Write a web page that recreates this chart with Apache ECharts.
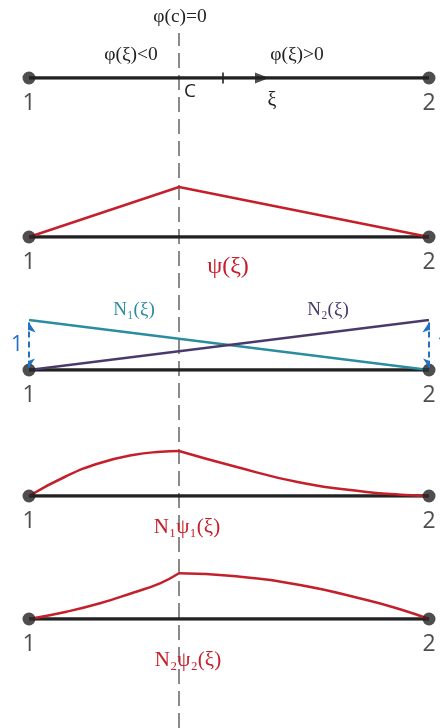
<!DOCTYPE html>
<html><head><meta charset="utf-8">
<style>html,body{margin:0;padding:0;background:#fff;}#c{width:440px;height:728px;}</style>
<script src="https://cdn.jsdelivr.net/npm/echarts@6/dist/echarts.min.js"></script>
</head><body><div id="c"></div>
<script>
// ---- data ----
const nodeXi = [0, 1];
const nodeLabels = ['1', '2'];
const cXi = 0.375;
const tickXi = 0.485;
const arrowXi = 0.5825;
const psiXi = [0, 0.375, 1];
const psiVal = [0, 1, 0];
const n1Xi = [0, 1];
const n1Val = [1, 0];
const n2Xi = [0, 1];
const n2Val = [0, 1];
const n1psiLeftXi = [0, 0.094, 0.1775, 0.26, 0.33, 0.375];
const n1psiLeftVal = [0, 0.40, 0.66, 0.82, 0.885, 0.90];
const n1psiRightXi = [0.375, 0.51, 0.6775, 0.844, 0.93, 1];
const n1psiRightVal = [0.90, 0.60, 0.27, 0.08, 0.025, 0];
const n2psiLeftXi = [0, 0.094, 0.1775, 0.26, 0.3275, 0.375];
const n2psiLeftVal = [0, 0.146, 0.314, 0.526, 0.714, 0.914];
const n2psiRightXi = [0.375, 0.51, 0.6775, 0.844, 0.9275, 1];
const n2psiRightVal = [0.914, 0.86, 0.68, 0.38, 0.194, 0];
const arrowXiList = [0, 1];

const RED = '#c4202b', TEAL = '#2a8d9f', PURPLE = '#4a3a6c', BLUE = '#1f72c6', BLACK = '#222';
const SERIF = '"Liberation Serif", "DejaVu Serif", serif';
const SANS = '"Open Sans", "Liberation Sans", sans-serif';

const zip = (a, b) => a.map((v, i) => [v, b[i]]);
const baselines = [78, 237, 370, 496, 619];
const grids = baselines.map(b => ({ left: 29, right: 11, top: b - 50, height: 50 }));
grids.push({ left: 29, right: 11, top: 33, bottom: 0 });
const xAxes = grids.map((g, i) => ({ type: 'value', gridIndex: i, min: 0, max: 1, show: false }));
const yAxes = grids.map((g, i) => ({ type: 'value', gridIndex: i, min: 0, max: 1, show: false }));

const series = [];
// dashed vertical line through c
series.push({ type: 'line', xAxisIndex: 5, yAxisIndex: 5, data: [[cXi, 0], [cXi, 1]], symbol: 'none', z: 1,
  lineStyle: { color: '#8a8a8a', width: 2, type: [15, 7] } });
// baselines and nodes
for (let i = 0; i < 5; i++) {
  series.push({ type: 'line', xAxisIndex: i, yAxisIndex: i, data: nodeXi.map(x => [x, 0]), symbol: 'none', z: 2,
    lineStyle: { color: BLACK, width: 3.5 } });
  series.push({ type: 'scatter', xAxisIndex: i, yAxisIndex: i, symbolSize: 13, z: 5,
    itemStyle: { color: BLACK },
    data: nodeXi.map((x, k) => ({ value: [x, 0], name: nodeLabels[k] })),
    label: { show: true, position: 'bottom', distance: 7, formatter: '{b}', fontSize: 23, color: BLACK, fontFamily: SANS } });
}
// panel 1 tick + arrow
series.push({ type: 'scatter', xAxisIndex: 0, yAxisIndex: 0, data: [[tickXi, 0]], symbol: 'rect', symbolSize: [2, 11], z: 4,
  itemStyle: { color: BLACK } });
series.push({ type: 'scatter', xAxisIndex: 0, yAxisIndex: 0, data: [[arrowXi, 0]], symbol: 'triangle', symbolSize: [11, 14], symbolRotate: -90, z: 4,
  itemStyle: { color: BLACK } });
// panel 2 psi
series.push({ type: 'line', xAxisIndex: 1, yAxisIndex: 1, data: zip(psiXi, psiVal), symbol: 'none', z: 3,
  lineStyle: { color: RED, width: 2.5 } });
// panel 3 N1, N2
series.push({ type: 'line', xAxisIndex: 2, yAxisIndex: 2, data: zip(n1Xi, n1Val), symbol: 'none', z: 3,
  lineStyle: { color: TEAL, width: 2.5 } });
series.push({ type: 'line', xAxisIndex: 2, yAxisIndex: 2, data: zip(n2Xi, n2Val), symbol: 'none', z: 3,
  lineStyle: { color: PURPLE, width: 2.5 } });
// dashed unit arrows (double headed)
arrowXiList.forEach(ax => {
  series.push({ type: 'lines', coordinateSystem: 'cartesian2d', xAxisIndex: 2, yAxisIndex: 2, z: 6, silent: true,
    symbol: ['arrow', 'arrow'], symbolSize: [9, 10],
    lineStyle: { color: BLUE, width: 2, type: [6, 4], opacity: 1 },
    data: [{ coords: [[ax, 0.05], [ax, 0.95]] }] });
});
// panel 4, 5 curves
[[3, n1psiLeftXi, n1psiLeftVal], [3, n1psiRightXi, n1psiRightVal], [4, n2psiLeftXi, n2psiLeftVal], [4, n2psiRightXi, n2psiRightVal]].forEach(([g, xs, ys]) => {
  series.push({ type: 'line', xAxisIndex: g, yAxisIndex: g, data: zip(xs, ys), symbol: 'none', smooth: true, z: 3,
    lineStyle: { color: RED, width: 2.5 } });
});

const txt = (x, y, t, o) => ({ type: 'text', x, y, z: 10,
  style: Object.assign({ text: t, align: 'center', verticalAlign: 'middle', fontSize: 18, fontFamily: SERIF, fill: BLACK }, o || {}) });

const graphic = [
  txt(180, 17, 'φ(c)=0', { fontSize: 19.5 }),
  txt(131, 55, 'φ(ξ)<0', { fontSize: 19.5 }),
  txt(297, 55, 'φ(ξ)>0', { fontSize: 19.5 }),
  txt(190, 92, 'C', { fontSize: 19, fontFamily: SANS }),
  txt(272, 101, 'ξ', { fontSize: 20 }),
  txt(228, 267, 'ψ(ξ)', { fontSize: 24, fill: RED }),
  txt(134, 310, 'N₁(ξ)', { fontSize: 19, fill: TEAL }),
  txt(328, 310, 'N₂(ξ)', { fontSize: 19, fill: PURPLE }),
  txt(17, 345, '1', { fontSize: 21, fontFamily: SANS, fill: BLUE }),
  txt(437, 345, '1', { fontSize: 21, fontFamily: SANS, fill: BLUE, align: 'left' }),
  txt(187, 527, 'N₁ψ₁(ξ)', { fontSize: 21, fill: RED }),
  txt(188, 660, 'N₂ψ₂(ξ)', { fontSize: 21, fill: RED })
];

const chart = echarts.init(document.getElementById('c'), null, { renderer: 'canvas' });
chart.setOption({ animation: false, backgroundColor: '#fff', grid: grids, xAxis: xAxes, yAxis: yAxes, series, graphic });
</script></body></html>
